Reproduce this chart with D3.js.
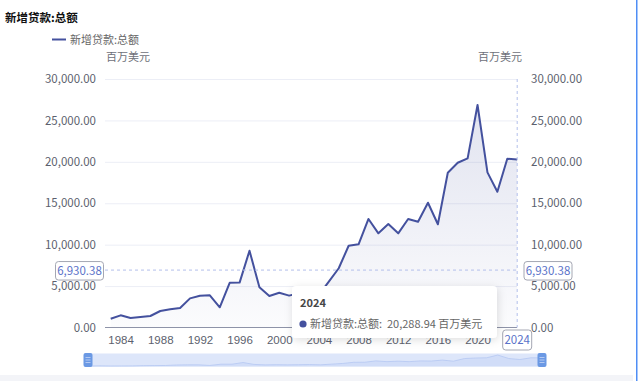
<!DOCTYPE html>
<html>
<head>
<meta charset="utf-8">
<script src="https://cdn.jsdelivr.net/npm/d3@7/dist/d3.min.js"></script>
<style>
  body { margin: 0; background: #fff; }
  svg { display: block; font-family: "Noto Sans CJK SC", "Noto Sans", sans-serif; }
</style>
</head>
<body>
<div id="chart"></div>
<script>
// 数据
const years = [1983, 1984, 1985, 1986, 1987, 1988, 1989, 1990, 1991, 1992, 1993, 1994, 1995, 1996,
  1997, 1998, 1999, 2000, 2001, 2002, 2003, 2004, 2005, 2006, 2007, 2008, 2009, 2010, 2011, 2012,
  2013, 2014, 2015, 2016, 2017, 2018, 2019, 2020, 2021, 2022, 2023, 2024];
const loans = [1060, 1470, 1150, 1270, 1390, 1990, 2200, 2350, 3520, 3840, 3880, 2440, 5400, 5420,
  9270, 4850, 3800, 4200, 3850, 4150, 4550, 3950, 5550, 7150, 9870, 10040, 13100, 11370, 12490, 11370,
  13100, 12770, 15060, 12460, 18680, 19890, 20420, 26860, 18730, 16390, 20370, 20288.94];
const yTicks = [0, 5000, 10000, 15000, 20000, 25000, 30000];
const xTicks = [1984, 1988, 1992, 1996, 2000, 2004, 2008, 2012, 2016, 2020];
const seriesName = "新增贷款:总额";
const unit = "百万美元";
const pointerY = 6930.38;
const hoverYear = 2024;

const W = 640, H = 381;
const lineColor = "#44519e";
const textColor = "#6e7079";
const grid = { left: 105, right: 517, top: 79, bottom: 327.5 };

const svg = d3.select("#chart").append("svg").attr("width", W).attr("height", H);

const x = d3.scaleLinear().domain([years[0], years[years.length - 1]]).range([110.7, 517.2]);
const y = d3.scaleLinear().domain([0, 30000]).range([grid.bottom, grid.top]);
const fmt = d3.format(",.2f");
const data = years.map((yr, i) => ({ year: yr, value: loans[i] }));

// 标题 & 图例
svg.append("text").attr("x", 5).attr("y", 18).attr("dy", "0.35em")
  .attr("font-size", 11.5).attr("font-weight", "bold").attr("fill", "#111").text(seriesName);
svg.append("line").attr("x1", 52).attr("x2", 66).attr("y1", 39.5).attr("y2", 39.5)
  .attr("stroke", lineColor).attr("stroke-width", 2);
svg.append("text").attr("x", 70).attr("y", 40.5).attr("dy", "0.35em")
  .attr("font-size", 11).attr("fill", "#666").text(seriesName);

// 轴名称
svg.append("text").attr("x", 128).attr("y", 57).attr("dy", "0.35em").attr("text-anchor", "middle")
  .attr("font-size", 11).attr("fill", "#6e7079").text(unit);
svg.append("text").attr("x", 500).attr("y", 57).attr("dy", "0.35em").attr("text-anchor", "middle")
  .attr("font-size", 11).attr("fill", "#6e7079").text(unit);

// 网格线
svg.append("g").selectAll("line").data(yTicks.filter(d => d > 0)).join("line")
  .attr("x1", grid.left).attr("x2", grid.right)
  .attr("y1", d => y(d) + 0.5).attr("y2", d => y(d) + 0.5)
  .attr("stroke", "#eceef6");

// y 轴 (左右)
const styleAxis = (g) => {
  g.select(".domain").remove();
  g.selectAll("text").attr("font-size", 11.5).attr("fill", "#5c5f6e")
    .attr("font-family", "'Noto Sans CJK SC', sans-serif");
};
svg.append("g").attr("transform", `translate(${grid.left},0)`)
  .call(d3.axisLeft(y).tickValues(yTicks).tickSize(0).tickPadding(9).tickFormat(fmt))
  .call(styleAxis);
svg.append("g").attr("transform", `translate(${grid.right},0)`)
  .call(d3.axisRight(y).tickValues(yTicks).tickSize(0).tickPadding(14).tickFormat(fmt))
  .call(styleAxis);

// 面积渐变
const defs = svg.append("defs");
const grad = defs.append("linearGradient").attr("id", "areaGrad")
  .attr("gradientUnits", "userSpaceOnUse")
  .attr("x1", 0).attr("x2", 0).attr("y1", y(27000)).attr("y2", grid.bottom);
grad.append("stop").attr("offset", 0).attr("stop-color", "#44519e").attr("stop-opacity", 0.16);
grad.append("stop").attr("offset", 1).attr("stop-color", "#44519e").attr("stop-opacity", 0.02);

const shadow = defs.append("filter").attr("id", "tipShadow")
  .attr("x", "-20%").attr("y", "-30%").attr("width", "140%").attr("height", "160%");
shadow.append("feDropShadow").attr("dx", 1).attr("dy", 2).attr("stdDeviation", 4)
  .attr("flood-color", "#000").attr("flood-opacity", 0.13);

svg.append("path").datum(data)
  .attr("d", d3.area().x(d => x(d.year)).y0(grid.bottom).y1(d => y(d.value)))
  .attr("fill", "url(#areaGrad)");

// x 轴
const xAxis = svg.append("g").attr("transform", `translate(0,${grid.bottom})`)
  .call(d3.axisBottom(x).tickValues(xTicks).tickSize(0).tickPadding(8).tickFormat(d3.format("d")));
xAxis.select(".domain").remove();
xAxis.selectAll("text").attr("font-size", 11.5).attr("fill", "#5c5f6e");
svg.append("line").attr("x1", grid.left).attr("x2", grid.right)
  .attr("y1", grid.bottom).attr("y2", grid.bottom).attr("stroke", "#8e93a8");

// 折线
svg.append("path").datum(data)
  .attr("d", d3.line().x(d => x(d.year)).y(d => y(d.value)))
  .attr("fill", "none").attr("stroke", lineColor).attr("stroke-width", 2)
  .attr("stroke-linejoin", "round");

// 十字指示线
const px = x(hoverYear), py = y(pointerY);
svg.append("line").attr("x1", grid.left).attr("x2", grid.right).attr("y1", py).attr("y2", py)
  .attr("stroke", "#b3bfeb").attr("stroke-dasharray", "3,3");
svg.append("line").attr("x1", px).attr("x2", px).attr("y1", grid.top).attr("y2", grid.bottom)
  .attr("stroke", "#b3bfeb").attr("stroke-dasharray", "3,3");

const pointerLabel = (cx, cy, w, h, txt) => {
  svg.append("rect").attr("x", cx - w / 2).attr("y", cy - h / 2).attr("width", w).attr("height", h)
    .attr("rx", 3).attr("fill", "#fff").attr("stroke", "#a4a7b3");
  svg.append("text").attr("x", cx).attr("y", cy).attr("dy", "0.35em").attr("text-anchor", "middle")
    .attr("font-size", 11.5).attr("fill", "#5b73c9").text(txt);
};
pointerLabel(79.5, 270.8, 48, 18.5, fmt(pointerY));
pointerLabel(548, 270.8, 48, 18.5, fmt(pointerY));

// 缩放条
const sx = d3.scaleLinear().domain(x.domain()).range([88, 542]);
const sy = d3.scaleLinear().domain([0, 27000]).range([366.5, 355]);
svg.append("rect").attr("x", 88).attr("y", 353.5).attr("width", 454).attr("height", 13)
  .attr("fill", "#dde6fa");
svg.append("path").datum(data)
  .attr("d", d3.area().x(d => sx(d.year)).y0(366.5).y1(d => sy(d.value)))
  .attr("fill", "#c9d7f6").attr("fill-opacity", 0.6);
svg.append("path").datum(data)
  .attr("d", d3.line().x(d => sx(d.year)).y(d => sy(d.value)))
  .attr("fill", "none").attr("stroke", "#b5c8f2").attr("stroke-width", 0.8);
[88, 542].forEach(hx => {
  const g = svg.append("g").attr("transform", `translate(${hx},360)`);
  g.append("rect").attr("x", -4.5).attr("y", -7).attr("width", 9).attr("height", 14).attr("rx", 2)
    .attr("fill", "#6b99e4");
  [-2.5, 0, 2.5].forEach(dy => g.append("line").attr("x1", -2.5).attr("x2", 2.5)
    .attr("y1", dy).attr("y2", dy).attr("stroke", "#c6d6f5").attr("stroke-width", 0.8));
});

// x 轴指示标签
pointerLabel(px, 340, 29, 20, String(hoverYear));

// 提示框
const tip = svg.append("g").attr("transform", "translate(292,286)");
tip.append("rect").attr("width", 205).attr("height", 52).attr("rx", 4)
  .attr("fill", "#fff").attr("filter", "url(#tipShadow)");
tip.append("text").attr("x", 8).attr("y", 17).attr("dy", "0.35em")
  .attr("font-size", 11).attr("font-weight", "bold").attr("fill", "#464646").text(hoverYear);
tip.append("circle").attr("cx", 11).attr("cy", 38).attr("r", 3.6).attr("fill", lineColor);
tip.append("text").attr("x", 18).attr("y", 38).attr("dy", "0.35em")
  .attr("font-size", 11).attr("fill", "#666").text(seriesName + ":");
tip.append("text").attr("x", 95).attr("y", 38).attr("dy", "0.35em")
  .attr("font-size", 11).attr("fill", "#666")
  .text(fmt(data.find(d => d.year === hoverYear).value) + " " + unit);

// 底部条 & 右侧边框
svg.append("rect").attr("x", 0).attr("y", 375).attr("width", 633).attr("height", 6).attr("fill", "#f3f4f8");
svg.append("rect").attr("x", 636).attr("y", 0).attr("width", 1.5).attr("height", H).attr("fill", "#4f8ef5");
</script>
</body>
</html>
